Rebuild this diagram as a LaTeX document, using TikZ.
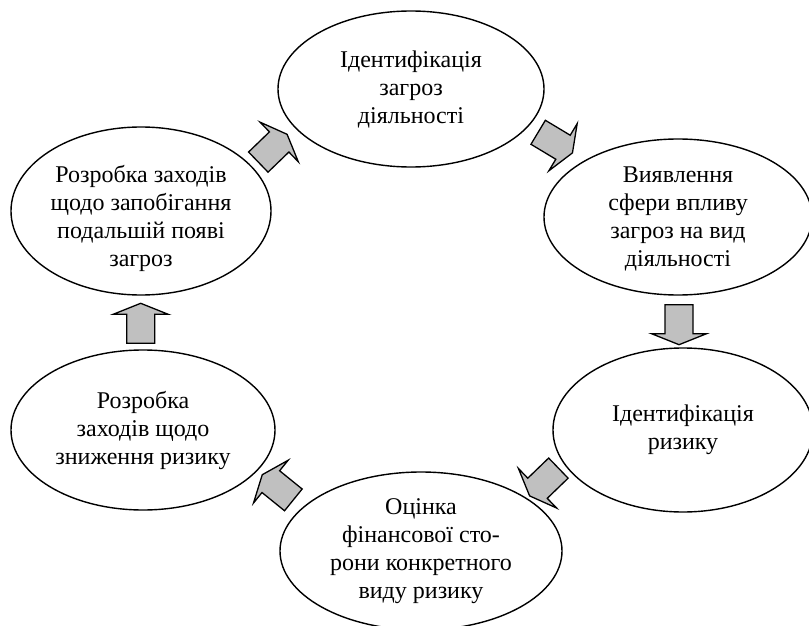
\documentclass[tikz,border=0pt]{standalone}
\usepackage{fontspec}
\setmainfont{Liberation Serif}
\usetikzlibrary{shapes.geometric}
\definecolor{arrowgray}{RGB}{192,192,192}
\begin{document}
\begin{tikzpicture}[x=1pt,y=-1pt,
  stage/.style={ellipse, draw=black, line width=1.4pt, inner sep=0pt},
  stagetext/.style={align=center, inner sep=0pt, font=\fontsize{24}{28}\selectfont},
  arrowbody/.style={draw=black, fill=arrowgray, line width=1.3pt, line join=miter},
  blockarrow/.pic={\draw[arrowbody] (-20,-14) -- (9,-14) -- (9,-27.5) -- (20,0) -- (9,27.5) -- (9,14) -- (-20,14) -- cycle;}
]
\useasboundingbox (0,0) rectangle (809,626);
\clip (0,0) rectangle (809,626);

% ellipses
\node[stage, minimum width=266pt, minimum height=156pt] (A) at (411,89) {};
\node[stage, minimum width=268pt, minimum height=156pt] (C) at (678,217) {};
\node[stage, minimum width=260pt, minimum height=164pt] (D) at (683,430) {};
\node[stage, minimum width=282pt, minimum height=158pt] (B) at (421,551) {};
\node[stage, minimum width=264pt, minimum height=160pt] (E) at (143,430) {};
\node[stage, minimum width=260pt, minimum height=168pt] (F) at (141,211) {};

% texts
\node[stagetext] (At) at (411,89) {Ідентифікація\\загроз\\діяльності};
\node[stagetext] (Ct) at (678,219) {Виявлення\\сфери впливу\\загроз на вид\\діяльності};
\node[stagetext] (Dt) at (683,430) {Ідентифікація\\ризику};
\node[stagetext] (Bt) at (421,551) {Оцінка\\фінансової сто-\\рони конкретного\\виду ризику};
\node[stagetext] (Et) at (143,430) {Розробка\\заходів щодо\\зниження ризику};
\node[stagetext] (Ft) at (141,218) {Розробка заходів\\щодо запобігання\\подальшій появі\\загроз};

% block arrows
\pic[rotate=44] at (272.7,148.2) {blockarrow};
\pic[rotate=-31] at (555.3,142.6) {blockarrow};
\pic[rotate=-90] at (679,324.7) {blockarrow};
\pic[rotate=-136] at (544,482) {blockarrow};
\pic[rotate=141] at (277.8,487.3) {blockarrow};
\pic[rotate=90] at (140.7,323.3) {blockarrow};
\end{tikzpicture}
\end{document}
